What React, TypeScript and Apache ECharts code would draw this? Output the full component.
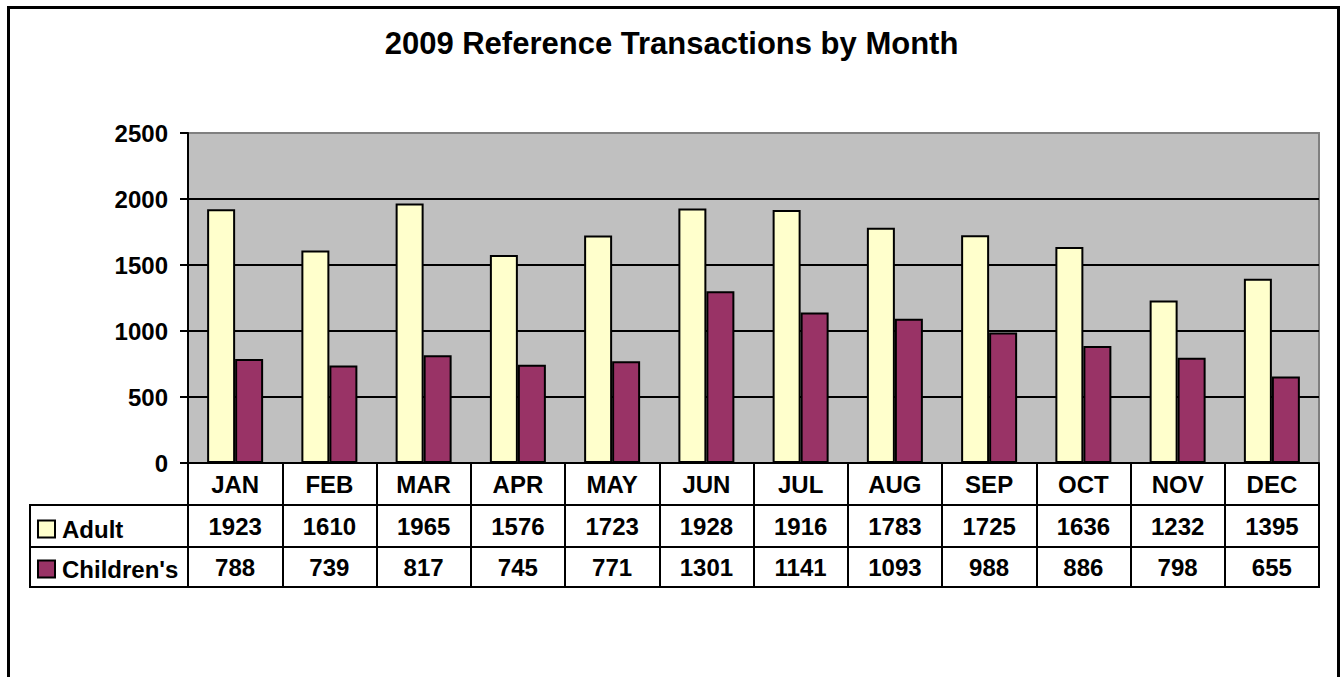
import React, { useEffect, useRef } from "react";
import * as echarts from "echarts";

const months = ["JAN", "FEB", "MAR", "APR", "MAY", "JUN", "JUL", "AUG", "SEP", "OCT", "NOV", "DEC"];
const adult = [1923, 1610, 1965, 1576, 1723, 1928, 1916, 1783, 1725, 1636, 1232, 1395];
const children = [788, 739, 817, 745, 771, 1301, 1141, 1093, 988, 886, 798, 655];
const seriesNames = ["Adult", "Children's"];
const titleText = "2009 Reference Transactions by Month";

const FONT = "'Liberation Sans', Arial, sans-serif";

export default function App() {
  const ref = useRef<HTMLDivElement>(null);
  useEffect(() => {
    if (!ref.current) return;
    const chart = echarts.init(ref.current, undefined, { renderer: "svg" });
    const gridLeft = 188;
    const gridRight = 1319;
    const gridTop = 133;
    const gridBottom = 463;
    const row1 = 42;
    const row2 = 42;
    const row3 = 40;
    const labelStyle = {
      fontFamily: FONT,
      fontWeight: "bold" as const,
      fontSize: 24,
      color: "#000",
    };
    const tableAxis = (data: string[], offset: number, tickLen: number, margin: number) => ({
      type: "category" as const,
      gridIndex: 0,
      position: "bottom" as const,
      offset,
      data,
      boundaryGap: true,
      axisLine: { show: true, lineStyle: { color: "#000", width: 2 } },
      axisTick: {
        show: true,
        interval: 0,
        alignWithLabel: false,
        length: tickLen,
        lineStyle: { color: "#000", width: 2 },
      },
      axisLabel: {
        show: true,
        interval: 0,
        margin,
        verticalAlign: "middle" as const,
        ...labelStyle,
      },
      splitLine: { show: false },
    });
    const tableBottom = gridBottom + row1 + row2 + row3;
    chart.setOption({
      animation: false,
      backgroundColor: "#fff",
      textStyle: { fontFamily: FONT },
      title: {
        text: titleText,
        left: "center",
        top: 23,
        textStyle: { fontFamily: FONT, fontWeight: "bold", fontSize: 31, color: "#000" },
      },
      legend: {
        orient: "vertical",
        left: 37,
        top: 517,
        padding: 0,
        itemWidth: 17,
        itemHeight: 17,
        itemGap: 16,
        icon: "rect",
        selectedMode: false,
        textStyle: { ...labelStyle, padding: [0, 0, 6, 2] },
        data: seriesNames,
      },
      grid: {
        left: gridLeft,
        right: 1343 - gridRight,
        top: gridTop,
        bottom: 677 - gridBottom,
        show: true,
        backgroundColor: "#C0C0C0",
        borderColor: "#808080",
        borderWidth: 2,
        containLabel: false,
      },
      xAxis: [
        tableAxis(months, 0, row1, 21),
        tableAxis(adult.map(String), row1, row2, 21),
        tableAxis(children.map(String), row1 + row2, row3, 20),
      ],
      yAxis: {
        type: "value",
        min: 0,
        max: 2500,
        interval: 500,
        axisLine: { show: true, lineStyle: { color: "#000", width: 2 } },
        axisTick: { show: true, length: 8, lineStyle: { color: "#000", width: 2 } },
        axisLabel: { margin: 20, formatter: (v: number) => String(v), ...labelStyle },
        splitLine: { show: true, showMaxLine: false, lineStyle: { color: "#000", width: 2 } },
      },
      series: [
        {
          name: seriesNames[0],
          type: "bar",
          xAxisIndex: 0,
          data: adult,
          barWidth: 28,
          barGap: "0%",
          itemStyle: { color: "#FFFFCC", borderColor: "#000", borderWidth: 2 },
        },
        {
          name: seriesNames[1],
          type: "bar",
          xAxisIndex: 0,
          data: children,
          barWidth: 28,
          barGap: "0%",
          itemStyle: { color: "#993366", borderColor: "#000", borderWidth: 2 },
        },
      ],
      graphic: [
        {
          type: "rect",
          silent: true,
          shape: { x: 8.5, y: 7.5, width: 1330, height: 700 },
          style: { fill: "none", stroke: "#000", lineWidth: 3 },
        },
        {
          type: "polyline",
          silent: true,
          shape: {
            points: [
              [gridLeft, gridBottom + row1],
              [30, gridBottom + row1],
              [30, tableBottom],
              [gridRight + 1, tableBottom],
            ],
          },
          style: { fill: "none", stroke: "#000", lineWidth: 2 },
        },
        {
          type: "line",
          silent: true,
          shape: { x1: 30, y1: gridBottom + row1 + row2, x2: gridLeft, y2: gridBottom + row1 + row2 },
          style: { stroke: "#000", lineWidth: 2 },
        },
      ],
    });
    return () => chart.dispose();
  }, []);
  return (
    <div
      ref={ref}
      style={{ position: "fixed", left: 0, top: 0, width: 1343, height: 677, background: "#fff" }}
    />
  );
}
